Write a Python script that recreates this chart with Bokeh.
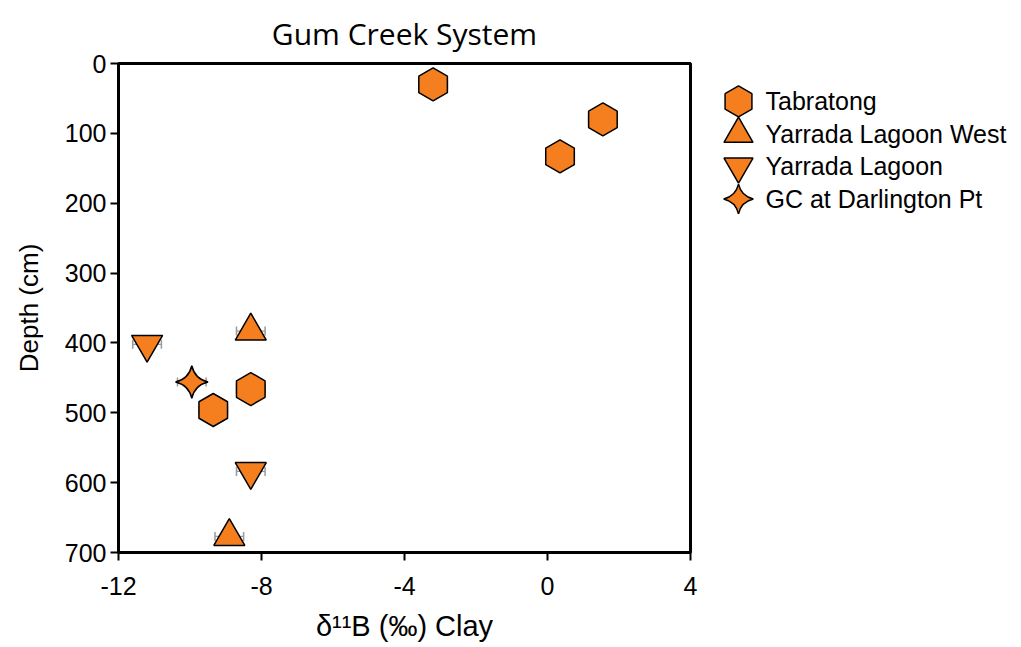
import math
from bokeh.plotting import figure
from bokeh.layouts import row
from bokeh.models import (Range1d, FixedTicker, PrintfTickFormatter, Whisker,
                          TeeHead, ColumnDataSource)
from bokeh.core.properties import value
from bokeh.embed import file_html
from bokeh.resources import INLINE

# ---- data ----
series_names = ["Tabratong", "Yarrada Lagoon West", "Yarrada Lagoon", "GC at Darlington Pt"]
tab_x = [-3.2, 1.55, 0.35, -8.3, -9.35]
tab_y = [30, 80, 133, 466, 496]
ylw_x = [-8.3, -8.9]
ylw_y = [383, 677]
yl_x = [-11.2, -8.3]
yl_y = [402, 584]
gc_x = [-9.95]
gc_y = [456]
x_err = 0.4  # analytical uncertainty (‰), small horizontal error bars
x_ticks = [-12, -8, -4, 0, 4]
y_ticks = [0, 100, 200, 300, 400, 500, 600, 700]

ORANGE = "#F57F1F"
FONT = "Liberation Sans"

markers = ["hex", "triangle", "inverted_triangle", "square_pin"]
angles = [math.pi / 2, 0, 0, math.pi / 4]
sizes = [33, 31, 31, 23]
xs_all = [tab_x, ylw_x, yl_x, gc_x]
ys_all = [tab_y, ylw_y, yl_y, gc_y]

H = 645
p = figure(width=700, height=H, output_backend="svg", toolbar_location=None,
           x_range=Range1d(-12, 4), y_range=Range1d(700, 0),
           min_border_left=118, min_border_right=10, min_border_top=62,
           min_border_bottom=H - 552, title="Gum Creek System")
p.title.align = "center"
p.title.text_font = "Open Sans"
p.title.text_font_size = "30px"
p.title.text_font_style = "normal"
p.title.text_color = "black"
p.title.standoff = 20
p.grid.visible = False
p.outline_line_color = "black"
p.outline_line_width = 3
p.background_fill_color = "white"
p.border_fill_color = "white"

for ax in (p.xaxis[0], p.yaxis[0]):
    ax.axis_line_color = "black"
    ax.axis_line_width = 3
    ax.major_tick_line_color = "black"
    ax.major_tick_line_width = 2
    ax.major_tick_out = 8
    ax.major_tick_in = 0
    ax.minor_tick_line_color = None
    ax.major_label_text_font = FONT
    ax.major_label_text_font_size = "25px"
    ax.major_label_text_color = "black"
    ax.axis_label_text_font = FONT
    ax.axis_label_text_font_style = "normal"
    ax.axis_label_text_color = "black"
    ax.formatter = PrintfTickFormatter(format="%d")
p.xaxis.ticker = FixedTicker(ticks=x_ticks)
p.yaxis.ticker = FixedTicker(ticks=y_ticks)
p.xaxis.axis_label = "δ¹¹B (‰) Clay"
p.yaxis.axis_label = "Depth (cm)"
p.xaxis.axis_label_text_font_size = "29px"
p.yaxis.axis_label_text_font_size = "26px"
p.xaxis.major_label_standoff = 16
p.yaxis.major_label_standoff = 4
p.xaxis.axis_label_standoff = 12
p.yaxis.axis_label_standoff = 18

# error bars (drawn under markers)
all_x = sum(xs_all, [])
all_y = sum(ys_all, [])
err_src = ColumnDataSource(dict(base=all_y,
                                lower=[v - x_err for v in all_x],
                                upper=[v + x_err for v in all_x]))
wh = Whisker(source=err_src, base="base", lower="lower", upper="upper",
             dimension="width", level="underlay", line_color="#9a9a9a", line_width=1.2,
             upper_head=TeeHead(size=9, line_color="#9a9a9a", line_width=1.5),
             lower_head=TeeHead(size=9, line_color="#9a9a9a", line_width=1.5))
p.add_layout(wh)

for m, a, s, xs, ys in zip(markers, angles, sizes, xs_all, ys_all):
    p.scatter(xs, ys, marker=m, angle=a, size=s, fill_color=ORANGE,
              line_color="black", line_width=1.5)

# ---- legend as a separate panel (frame aligned with main frame) ----
lg = figure(width=318, height=H, output_backend="svg", toolbar_location=None,
            x_range=Range1d(700, 1018), y_range=Range1d(552, 62),
            min_border=0, outline_line_color=None)
lg.axis.visible = False
lg.grid.visible = False
n = len(series_names)
ly = [100 + 32.6 * i for i in range(n)]
for i in range(n):
    lg.scatter([738], [ly[i]], marker=markers[i], angle=angles[i], size=sizes[i] - 2,
               fill_color=ORANGE, line_color="black", line_width=1.5)
lg.text(x=[765] * n, y=ly, text=series_names, text_font=value(FONT),
        text_font_size="25px", text_baseline="middle", text_color="black")

layout = row(p, lg)
open("out.html", "w").write(file_html(layout, INLINE))
